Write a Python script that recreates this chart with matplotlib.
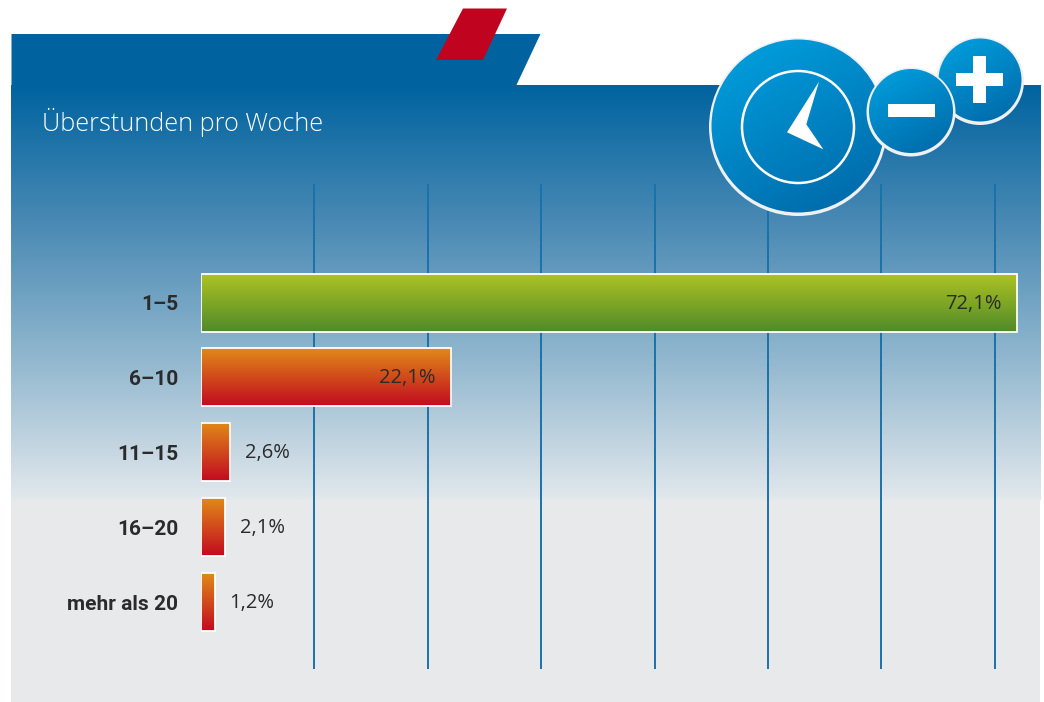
import matplotlib
matplotlib.use("Agg")
import matplotlib.pyplot as plt
from matplotlib.colors import LinearSegmentedColormap
from matplotlib.patches import Circle, Polygon, Rectangle
import numpy as np

title = "Überstunden pro Woche"
categories = ["1–5", "6–10", "11–15", "16–20", "mehr als 20"]
values = [72.1, 22.1, 2.6, 2.1, 1.2]
value_labels = ["72,1%", "22,1%", "2,6%", "2,1%", "1,2%"]
grid_ticks = [9.98, 20.04, 30.04, 40.08, 50.09, 60.07, 70.14]

plt.rcParams['font.family'] = ['Roboto', 'DejaVu Sans']
W, H = 1044, 702
TEXT = '#2b2b2b'

fig = plt.figure(figsize=(W / 100, H / 100), dpi=100, facecolor='white')


def pixel_axes(zorder):
    a = fig.add_axes([0, 0, 1, 1], zorder=zorder)
    a.set_xlim(0, W)
    a.set_ylim(H, 0)
    a.axis('off')
    a.patch.set_alpha(0)
    return a


def vgrad(a, cmap, x0, x1, y0, y1, zorder=1):
    g = np.linspace(0, 1, 256).reshape(-1, 1)
    return a.imshow(g, cmap=cmap, extent=(x0, x1, y1, y0), aspect='auto', zorder=zorder, interpolation='bilinear')


def badge(a, cx, cy, r, zorder):
    # runder Button mit diagonalem Verlauf, heller Rand unten etwas breiter
    a.add_patch(Circle((cx, cy), r, fc='#eef0f2', ec='none', zorder=zorder))
    inner = Circle((cx, cy - 1), r - 2.5, fc='none', ec='none', zorder=zorder)
    a.add_patch(inner)
    xx, yy = np.meshgrid(np.linspace(0, 1, 128), np.linspace(0, 1, 128))
    im = a.imshow(xx * 0.35 + yy * 0.65, cmap=badge_cmap, extent=(cx - r, cx + r, cy + r, cy - r),
                  aspect='auto', zorder=zorder + 0.1)
    im.set_clip_path(inner)


bg_cmap = LinearSegmentedColormap.from_list('bg', ['#00639f', '#4a8ab4', '#93b8cf', '#e2e8ec'])
green_cmap = LinearSegmentedColormap.from_list('green', ['#aec322', '#4f8a2a'])
red_cmap = LinearSegmentedColormap.from_list('red', ['#e08a18', '#c20a20'])
badge_cmap = LinearSegmentedColormap.from_list('badge', ['#00a3e2', '#0064a4'])

# Hintergrund
bg = pixel_axes(0)
bg.add_patch(Rectangle((10.5, 85), 1029.5, 617, fc='#e7e9eb', ec='none', zorder=0))
vgrad(bg, bg_cmap, 10.5, 1040, 85, 500)
bg.add_patch(Polygon([(11.5, 34), (540.5, 34), (516, 86), (11.5, 86)], fc='#00639f', ec='none', zorder=2))
bg.add_patch(Polygon([(463, 8.5), (507, 8.5), (483, 60), (436, 60)], fc='#c00420', ec='none', zorder=3))
bg.text(42, 122, title, color='white', fontsize=18.2, fontweight='light', family=['Open Sans', 'DejaVu Sans'],
        va='center', ha='left', zorder=4)
bg.set_xlim(0, W)
bg.set_ylim(H, 0)

# Balken
left_px, top_px, bottom_px = 201, 184, 669
px_per_pct = 11.32
row_px = 74.9
first_px = 302.5
ax = fig.add_axes([left_px / W, (H - bottom_px) / H, (W - left_px) / W, (bottom_px - top_px) / H], zorder=1)
ax.patch.set_alpha(0)
for s in ax.spines.values():
    s.set_visible(False)
xlim = (0, (W - left_px) / px_per_pct)
ylim = ((bottom_px - first_px) / row_px, (top_px - first_px) / row_px)
y_pos = np.arange(len(categories))
ax.set_xticks(grid_ticks)
ax.set_yticks(y_pos)
ax.set_yticklabels(categories, fontsize=15, fontweight='bold', color=TEXT)
ax.tick_params(axis='x', length=0, labelbottom=False)
ax.tick_params(axis='y', length=0, pad=16.5)
ax.grid(axis='x', color='#1a72aa', linewidth=1.4, zorder=0)
ax.set_axisbelow(True)

bars = ax.barh(y_pos, values, height=58 / row_px, fc='none', ec='white', linewidth=1.3, zorder=3)
for i, b in enumerate(bars):
    cmap = green_cmap if i == 0 else red_cmap
    vgrad(ax, cmap, b.get_x(), b.get_x() + b.get_width(), b.get_y(), b.get_y() + b.get_height(), zorder=2)
    if values[i] > 10:
        ax.annotate(value_labels[i], (values[i], i), xytext=(-16, -1), textcoords='offset pixels', ha='right',
                    va='center', fontsize=14.5, family=['Open Sans', 'DejaVu Sans'], color=TEXT, zorder=4)
    else:
        ax.annotate(value_labels[i], (values[i], i), xytext=(15, -1), textcoords='offset pixels', ha='left',
                    va='center', fontsize=14.5, family=['Open Sans', 'DejaVu Sans'], color=TEXT, zorder=4)
ax.set_xlim(xlim)
ax.set_ylim(ylim)

# Symbole oben rechts
ic = pixel_axes(2)
badge(ic, 798, 127, 89, 1)
ic.add_patch(Circle((798, 127), 56, fc='none', ec='white', lw=1.8, zorder=2))
ic.add_patch(Polygon([(819, 81.7), (806.3, 124.3), (823.3, 149.3), (787, 132.3)], fc='white', ec='none', zorder=2))
badge(ic, 980, 81, 44, 3)
ic.add_patch(Rectangle((956, 73), 47, 13, fc='white', ec='none', zorder=4))
ic.add_patch(Rectangle((973, 56), 13, 47, fc='white', ec='none', zorder=4))
badge(ic, 911, 112, 44.5, 5)
ic.add_patch(Rectangle((888, 104), 47, 13, fc='white', ec='none', zorder=6))
ic.set_xlim(0, W)
ic.set_ylim(H, 0)

fig.savefig('out.png', dpi=100)
